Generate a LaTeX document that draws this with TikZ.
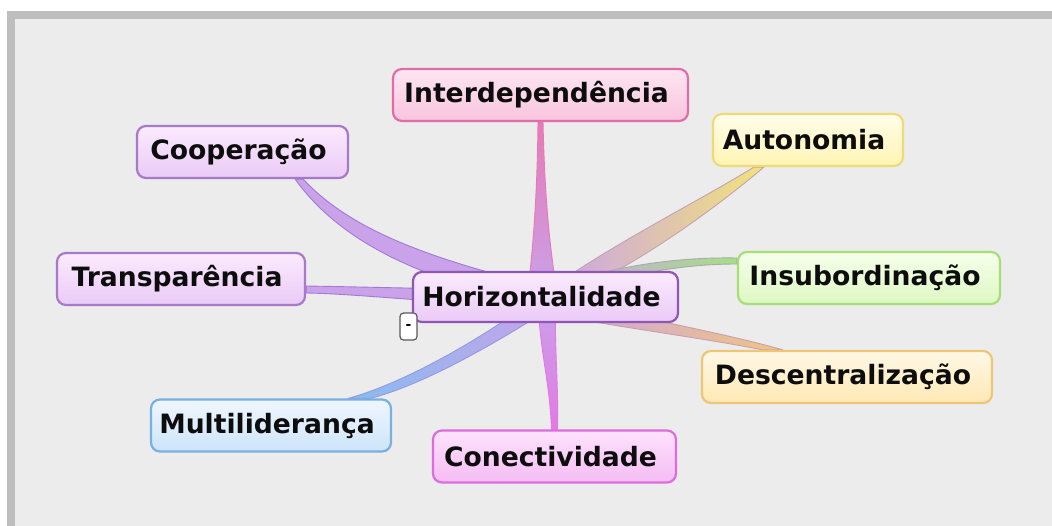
\documentclass[tikz,border=0pt]{standalone}
\usepackage{fontspec}
\setmainfont{DejaVu Sans}
\usetikzlibrary{calc}
\pgfdeclarelayer{back}
\pgfdeclarelayer{branches}
\pgfsetlayers{back,branches,main}
% node colours
\definecolor{purT}{HTML}{FBEBFE}\definecolor{purB}{HTML}{EACAF6}\definecolor{purD}{HTML}{A67AC8}\definecolor{purH}{HTML}{8E56B6}
\definecolor{pinT}{HTML}{FDE6F1}\definecolor{pinB}{HTML}{F8C4DE}\definecolor{pinD}{HTML}{E06CA8}
\definecolor{yelT}{HTML}{FFFDEA}\definecolor{yelB}{HTML}{FFF4B4}\definecolor{yelD}{HTML}{F0DA78}
\definecolor{grnT}{HTML}{F5FFEA}\definecolor{grnB}{HTML}{DDF8C2}\definecolor{grnD}{HTML}{A6DE78}
\definecolor{oraT}{HTML}{FFF8E6}\definecolor{oraB}{HTML}{FFE8B4}\definecolor{oraD}{HTML}{EEC676}
\definecolor{bluT}{HTML}{EFF7FF}\definecolor{bluB}{HTML}{CDE4FA}\definecolor{bluD}{HTML}{78B0E2}
\definecolor{magT}{HTML}{FDE2FC}\definecolor{magB}{HTML}{F5BCF4}\definecolor{magD}{HTML}{DE6CDE}
% branch colours
\definecolor{brP}{HTML}{C9A2EA}\definecolor{brPe}{HTML}{A478D6}
\definecolor{brPink}{HTML}{E77AB6}\definecolor{brY}{HTML}{F2E27A}\definecolor{brG}{HTML}{A8DE84}
\definecolor{brO}{HTML}{F0C67E}\definecolor{brB}{HTML}{86BCF0}\definecolor{brM}{HTML}{E27AE4}
\definecolor{frame}{HTML}{BEBEBE}\definecolor{canvas}{HTML}{ECECEC}
\newcommand{\lbl}[1]{#1\kern8pt}
\begin{document}
\begin{tikzpicture}[x=1pt,y=-1pt,
  mm/.style={rounded corners=9pt, line width=2.2pt, minimum height=52pt, inner sep=0pt,
    font=\bfseries\fontsize{26.6}{30}\selectfont, text=black!95},
  purnode/.style={mm, draw=purD, top color=purT, bottom color=purB},
  centernode/.style={mm, draw=purH, top color=purT, bottom color=purB, minimum height=50pt},
  pinnode/.style={mm, draw=pinD, top color=pinT, bottom color=pinB},
  yelnode/.style={mm, draw=yelD, top color=yelT, bottom color=yelB},
  grnnode/.style={mm, draw=grnD, top color=grnT, bottom color=grnB},
  oranode/.style={mm, draw=oraD, top color=oraT, bottom color=oraB},
  blunode/.style={mm, draw=bluD, top color=bluT, bottom color=bluB},
  magnode/.style={mm, draw=magD, top color=magT, bottom color=magB},
  btn/.style={rounded corners=3.5pt, draw=black!65, line width=1.2pt, fill=white,
    minimum width=17pt, minimum height=27pt, inner sep=0pt, font=\bfseries\fontsize{14}{14}\selectfont},
  br/.style={line width=0.9pt, line join=round}]
\useasboundingbox (0,0) rectangle (1052,526);
\begin{pgfonlayer}{back}
  \fill[white] (0,0) rectangle (1052,526);
  \fill[frame] (7,11) rectangle (1052,526);
  \fill[canvas] (15,19) rectangle (1052,526);
\end{pgfonlayer}

\node[centernode, minimum width=265pt] (H) at (545.5,297) {\lbl{Horizontalidade}};
\node[pinnode, minimum width=295pt] (I) at (540.5,95) {\lbl{Interdependência}};
\node[purnode, minimum width=211pt] (Co) at (242.5,152) {\lbl{Cooperação}};
\node[yelnode, minimum width=190pt] (A) at (808,140) {\lbl{Autonomia}};
\node[purnode, minimum width=248pt] (T) at (181,279) {\lbl{Transparência}};
\node[grnnode, minimum width=262pt] (In) at (869,278) {\lbl{Insubordinação}};
\node[oranode, minimum width=290pt] (D) at (847,377) {\lbl{Descentralização}};
\node[blunode, minimum width=240pt] (M) at (271,425.5) {\lbl{Multiliderança}};
\node[magnode, minimum width=243pt] (Cn) at (554.5,456.5) {\lbl{Conectividade}};
\node[btn] (btn) at (408.5,326.5) {-};

\begin{pgfonlayer}{branches}
  % Interdependencia
  \shadedraw[br, draw=brPink, top color=brPink, bottom color=brP]
    ($(I.south)+(-2.5,0)$) .. controls +(-1,90) and +(4,-40) .. ($(H.center)+(-18,0)$)
    -- ($(H.center)+(12,0)$) .. controls +(-6,-40) and +(2,90) .. ($(I.south)+(2.5,0)$) -- cycle;
  % Cooperacao
  \filldraw[br, draw=brPe, fill=brP]
    ($(Co.south east)+(-46,0)$) .. controls +(45,48) and +(-125,-30) .. ($(H.center)+(0,-10)$)
    -- ($(H.center)+(0,8)$) .. controls +(-135,-25) and +(40,56) .. ($(Co.south east)+(-54,0)$) -- cycle;
  % Autonomia
  \shadedraw[br, draw=brPe!60!brY, left color=brP, right color=brY]
    ($(A.south west)+(42,0)$) .. controls +(-55,34) and +(62,-45) .. ($(H.center)+(3,-7)$)
    -- ($(H.center)+(14,3)$) .. controls +(85,-38) and +(-40,34) .. ($(A.south west)+(52,0)$) -- cycle;
  % Transparencia
  \filldraw[br, draw=brPe, fill=brP]
    ($(T.east)+(0,7)$) .. controls +(60,1) and +(-100,-2) .. ($(H.center)+(0,-6)$)
    -- ($(H.center)+(0,8)$) .. controls +(-100,0) and +(60,1) .. ($(T.east)+(0,14)$) -- cycle;
  % Insubordinacao
  \shadedraw[br, draw=brPe!50!brG, left color=brP, right color=brG]
    ($(In.west)+(0,-20)$) .. controls +(-58,-1) and +(70,-24) .. ($(H.center)+(0,-8)$)
    -- ($(H.center)+(0,2)$) .. controls +(80,-25) and +(-55,0) .. ($(In.west)+(0,-14)$) -- cycle;
  % Descentralizacao
  \shadedraw[br, draw=brPe!50!brO, left color=brP, right color=brO]
    ($(H.center)+(0,-5)$) .. controls +(80,25) and +(-70,-20) .. ($(D.north west)+(82,0)$)
    -- ($(D.north west)+(62,0)$) .. controls +(-60,-12) and +(70,14) .. ($(H.center)+(0,16)$) -- cycle;
  % Multilideranca
  \shadedraw[br, draw=brPe!50!brB, left color=brB, right color=brP]
    ($(M.north east)+(-44,0)$) .. controls +(55,-15) and +(-60,45) .. ($(H.center)+(-5,-2)$)
    -- ($(H.center)+(10,8)$) .. controls +(-70,45) and +(48,-12) .. ($(M.north east)+(-22,0)$) -- cycle;
  % Conectividade
  \shadedraw[br, draw=brM, top color=brP, bottom color=brM]
    ($(H.center)+(-8,0)$) .. controls +(3,60) and +(-2,-50) .. ($(Cn.north)+(-3,0)$)
    -- ($(Cn.north)+(3,0)$) .. controls +(1,-50) and +(-1,60) .. ($(H.center)+(10,0)$) -- cycle;
\end{pgfonlayer}
\end{tikzpicture}
\end{document}
